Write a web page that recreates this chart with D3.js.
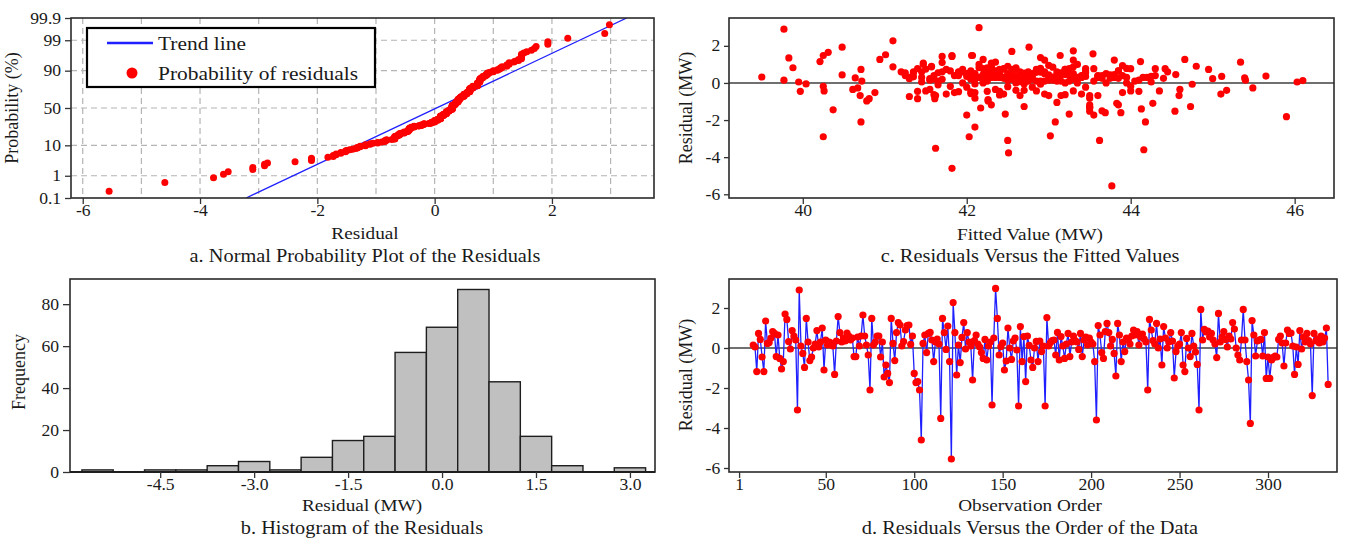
<!DOCTYPE html>
<meta charset="utf-8">
<script src="https://d3js.org/d3.v7.min.js"></script>
<style>
	body{
		margin:0;
		background:#fff;
	}
	svg text{
		font-family:'Liberation Serif','Times New Roman',serif;
		fill:#1a1a1a;
	}
</style>
<div id="chart"></div>
<script>
	// residuals in observation order (first plotted observation is 9)
	var firstObs = 9
	var residuals = [
		0.15,0.05,-1.18,0.73,0.43,-0.45,-1.18,1.35,0.23,0.27,
		0.5,0.82,0.73,-0.43,0.65,-0.52,-1.05,-0.68,1.7,1.43,
		0.32,-0.05,0.87,0.6,0.4,-3.1,2.9,0.1,-0.27,-0.97,
		1.48,0.3,-0.63,-0.45,0.0,0.2,0.87,0.05,0.3,1.0,
		-1.1,0.4,0.15,0.3,0.25,0.1,-1.32,0.35,1.57,0.77,
		0.3,0.5,0.35,0.75,0.6,0.4,0.5,-0.43,-0.43,0.55,
		0.1,0.6,1.65,0.6,0.15,-0.35,-2.1,1.48,0.15,0.3,
		0.6,0.6,-0.45,0.3,-1.45,-0.85,-1.27,-1.73,1.48,0.23,
		-0.63,0.77,1.27,1.15,0.1,0.32,0.9,1.12,1.15,0.18,
		0.6,-1.27,-1.73,-1.68,-2.1,-4.6,0.23,0.65,-0.23,0.73,
		0.78,0.4,-0.68,0.3,0.45,0.2,-3.52,1.48,0.77,-0.07,
		1.1,-0.68,-5.55,2.27,0.77,-1.35,0.15,-0.73,0.53,1.27,
		-0.05,0.77,0.3,0.1,-1.6,0.37,0.65,0.2,0.05,-0.23,
		-0.52,0.43,-0.6,0.1,0.3,-2.85,0.5,2.98,1.48,-0.35,
		0.07,0.25,-1.1,-0.65,1.0,0.0,-0.57,0.35,0.5,-0.1,
		-2.9,1.07,-0.68,0.57,-1.68,0.6,0.13,-0.6,-0.97,0.0,
		0.33,-0.68,0.35,-0.18,0.1,-2.9,1.52,0.1,0.27,0.37,
		0.4,-0.35,0.78,-0.6,0.57,0.1,-0.52,0.2,0.73,-0.43,
		0.3,0.6,0.37,0.3,-0.07,0.73,-0.43,0.4,0.55,0.15,
		0.5,0.3,0.2,-0.68,-3.6,1.12,0.65,-0.23,-0.52,0.82,
		1.23,0.77,0.1,0.43,-0.27,-1.4,1.23,0.65,-0.68,0.3,
		-0.18,0.5,0.4,0.2,0.6,0.9,0.65,0.82,0.15,0.55,
		0.7,0.45,0.3,-2.1,1.43,0.9,0.37,0.2,1.23,0.0,
		0.45,-0.85,1.07,0.5,0.0,0.3,0.77,0.35,-1.5,-0.18,
		0.1,0.2,0.77,-0.85,-1.18,0.48,0.0,-0.43,0.73,0.1,
		-0.2,-0.82,-3.1,1.93,0.4,0.93,0.8,0.85,0.55,0.73,
		0.4,0.2,-0.48,1.73,0.3,0.55,0.82,0.43,0.05,0.6,
		0.45,1.27,0.95,0.0,-0.35,-0.6,0.4,1.93,0.4,-0.68,
		-1.6,-3.77,1.37,0.65,-0.4,0.35,0.4,0.43,-0.4,0.77,
		-1.52,-0.45,-1.52,-0.6,-0.47,-0.4,-0.45,0.43,0.6,0.25,
		-0.9,0.25,0.9,0.73,0.75,0.1,-1.32,0.05,-0.82,0.87,
		-0.05,0.55,0.3,0.73,0.37,0.2,-2.38,0.73,0.35,0.45,
		0.25,0.6,0.3,0.5,1.0,-1.82
	]
	// fitted value of each observation, same order
	var fitted = [
		39.77,39.95,42.3,40.71,40.48,39.97,43.5,39.83,41.3,40.64,
		42.1,39.88,42.6,40.26,41.8,40.88,43.1,40.7,42.55,41.7,
		39.5,40.04,41.57,42.9,41.25,43.62,39.77,40.72,40.67,40.78,
		40.25,42.4,43.2,41.4,42.2,43.0,41.1,42.7,43.4,42.15,
		44.27,41.9,45.4,42.35,43.75,41.65,43.5,42.8,43.54,44.42,
		42.05,43.3,45.11,42.45,41.35,43.9,42.65,41.5,44.0,42.25,
		43.15,41.95,40.31,42.75,44.1,40.61,40.71,41.82,42.5,43.6,
		41.45,42.95,42.4,43.35,40.37,40.81,44.73,43.55,42.06,41.55,
		41.6,44.3,40.94,40.21,42.85,43.05,44.8,45.34,44.12,42.6,
		41.2,42.7,42.0,43.25,43.08,41.82,45.0,42.3,43.45,41.75,
		42.9,43.65,41.62,42.15,43.8,42.55,41.62,42.07,43.25,44.75,
		41.7,44.59,43.77,41.1,42.45,42.17,43.0,41.3,42.7,44.66,
		42.1,43.45,41.45,42.9,43.69,45.65,42.35,43.3,46.03,42.8,
		41.85,43.15,45.1,42.25,44.15,43.02,42.0,42.15,43.14,41.55,
		42.65,43.85,43.83,42.4,41.47,43.2,42.05,44.25,42.5,41.65,
		40.25,42.3,43.5,41.9,42.47,43.1,46.1,42.95,42.26,43.7,
		41.35,43.0,42.6,40.25,44.05,42.03,41.01,42.2,45.39,42.75,
		43.4,42.35,43.95,41.75,42.85,43.55,42.1,41.6,44.95,43.3,
		42.45,41.9,43.6,42.15,42.9,43.2,44.35,42.55,41.25,43.05,
		42.8,44.2,42.25,42.65,44.16,42.35,43.45,42.0,43.9,42.6,
		42.95,41.4,43.25,42.4,45.49,44.13,43.3,42.05,43.6,42.7,
		41.8,43.7,42.2,43.0,44.45,42.5,43.85,42.25,41.55,43.15,
		42.85,44.55,42.45,44.18,41.82,41.57,43.4,42.1,43.8,42.6,
		43.1,41.4,41.47,42.95,43.95,42.3,43.55,42.0,43.65,44.0,
		42.75,41.7,42.2,41.61,43.85,42.4,43.35,42.85,41.95,43.1,
		42.5,43.5,42.5,40.48,42.65,43.9,42.3,43.05,41.65,42.55,
		44.3,42.8,42.05,43.3,41.3,43.45,42.15,43.75,41.45,42.9,
		43.2,42.2,43.0,41.95,44.6,42.45,43.6,42.76,41.6,43.15,
		43.88,42.51,42.9,43.85,45.17,42.35,41.85,43.25,42.7,44.0,
		44.54,42.25,43.5,43.4,41.9,42.6,44.1,43.0,41.7,42.45,
		42.26,43.65,42.3,43.2,41.5,42.95,43.5,44.25,42.1,43.3,
		42.7,41.35,43.8,42.4,43.1,42.05,42.1,42.85,43.45,42.2,
		44.4,42.65,43.95,42.0,43.35,45.9
	]
	// histogram (bin width 0.5)
	var histCenters = [-5.5,-5,-4.5,-4,-3.5,-3,-2.5,-2,-1.5,-1,-0.5,0,0.5,1,1.5,2,2.5,3]
	var histCounts = [1,0,1,1,3,5,1,7,15,17,57,69,87,43,17,3,0,2]
	var binWidth = 0.5

	// ticks
	var probTicks = [0.1,1,10,50,90,99,99.9]
	var probGrid = [1,10,50,90,99]
	var residTicksA = [-6,-4,-2,0,2]
	var residGridA = [-6,-5,-4,-3,-2,-1,0,1,2,3]
	var fitTicks = [40,42,44,46]
	var resTicks = [-6,-4,-2,0,2]
	var histXTicks = [-4.5,-3,-1.5,0,1.5,3]
	var freqTicks = [0,20,40,60,80]
	var orderTicks = [1,50,100,150,200,250,300]

	// trend line (normal fit)
	var trendMean = 0.03
	var trendSd = 1.05
	var legendItems = ["Trend line","Probability of residuals"]

	var W = 1346, H = 544
	var stretch = " scale(1.1,1)"
	var textCol = "#1a1a1a"
	var svg = d3.select("#chart").append("svg").attr("width",W).attr("height",H)

	function probit(p){
		var a=[-3.969683028665376e+01,2.209460984245205e+02,-2.759285104469687e+02,1.383577518672690e+02,-3.066479806614716e+01,2.506628277459239e+00]
		var b=[-5.447609879822406e+01,1.615858368580409e+02,-1.556989798598866e+02,6.680131188771972e+01,-1.328068155288572e+01]
		var c=[-7.784894002430293e-03,-3.223964580411365e-01,-2.400758277161838e+00,-2.549732539343734e+00,4.374664141464968e+00,2.938163982698783e+00]
		var d=[7.784695709041462e-03,3.224671290700398e-01,2.445134137142996e+00,3.754408661907416e+00]
		var pl=0.02425, q, r
		if(p<pl){
			q=Math.sqrt(-2*Math.log(p))
			return (((((c[0]*q+c[1])*q+c[2])*q+c[3])*q+c[4])*q+c[5])/((((d[0]*q+d[1])*q+d[2])*q+d[3])*q+1)
		}
		if(p>1-pl){
			q=Math.sqrt(-2*Math.log(1-p))
			return -(((((c[0]*q+c[1])*q+c[2])*q+c[3])*q+c[4])*q+c[5])/((((d[0]*q+d[1])*q+d[2])*q+d[3])*q+1)
		}
		q=p-0.5; r=q*q
		return (((((a[0]*r+a[1])*r+a[2])*r+a[3])*r+a[4])*r+a[5])*q/(((((b[0]*r+b[1])*r+b[2])*r+b[3])*r+b[4])*r+1)
	}

	function label(txt,x,y,size,rotate){
		var t = svg.append("text").text(txt)
			.attr("text-anchor","middle")
			.style("font-size",size+"px")
		if(rotate){
			t.attr("transform","translate("+x+","+y+") rotate(-90)")
		}else{
			t.attr("transform","translate("+x+","+y+")"+stretch)
		}
		return t
	}

	function styleAxis(g,size){
		g.select(".domain").remove()
		g.attr("color","#333")
		g.selectAll("line").attr("stroke-width",1.3)
		g.selectAll("text").attr("transform","scale(1.1,1)").style("font-size",size+"px").attr("fill",textCol)
	}

	function frame(box){
		svg.append("rect").attr("x",box.l).attr("y",box.t)
			.attr("width",box.r-box.l).attr("height",box.b-box.t)
			.attr("fill","none").attr("stroke","#2a2a2a").attr("stroke-width",1.6)
	}

	function clip(id,box){
		svg.append("clipPath").attr("id",id).append("rect")
			.attr("x",box.l).attr("y",box.t).attr("width",box.r-box.l).attr("height",box.b-box.t)
	}

	var fmtInt = function(d){ return String(d) }
	var fmt1 = function(d){ return d.toFixed(1) }

	// ---------- a. normal probability plot
	function drawProb(){
		var box = {l:71,t:18,r:654,b:198}
		var x = d3.scaleLinear().domain([-6.2,3.74]).range([box.l,box.r])
		var zMax = probit(0.999)
		var yz = d3.scaleLinear().domain([-zMax,zMax]).range([box.b,box.t])
		var y = function(pct){ return yz(probit(pct/100)) }
		clip("clipA",box)

		var grid = svg.append("g").attr("stroke","#b4b4b4").attr("stroke-width",1.2).attr("stroke-dasharray","6,4")
		grid.selectAll(".vg").data(residGridA).enter().append("line")
			.attr("x1",function(d){return x(d)}).attr("x2",function(d){return x(d)})
			.attr("y1",box.t).attr("y2",box.b)
		grid.selectAll(".hg").data(probGrid).enter().append("line")
			.attr("y1",function(d){return y(d)}).attr("y2",function(d){return y(d)})
			.attr("x1",box.l).attr("x2",box.r)

		// sorted residuals with plotting positions
		var sorted = residuals.slice().sort(d3.ascending)
		var n = sorted.length
		var pts = sorted.map(function(v,i){ return {x:v,z:probit((i+1-0.3)/(n+0.4))} })

		var zs = [-zMax,zMax]
		svg.append("line").attr("clip-path","url(#clipA)")
			.attr("x1",x(trendMean+trendSd*zs[0])).attr("y1",yz(zs[0]))
			.attr("x2",x(trendMean+trendSd*zs[1])).attr("y2",yz(zs[1]))
			.attr("stroke","#1f1fff").attr("stroke-width",1.3)

		svg.append("g").selectAll("circle").data(pts).enter().append("circle")
			.attr("cx",function(d){return x(d.x)}).attr("cy",function(d){return yz(d.z)})
			.attr("r",3.5).attr("fill","#ff0000")

		frame(box)

		var xa = svg.append("g").attr("transform","translate(0,"+box.b+")")
			.call(d3.axisBottom(x).tickValues(residTicksA).tickFormat(fmtInt).tickSize(6).tickPadding(1).tickSizeOuter(0))
		styleAxis(xa,16)
		var ya = svg.append("g").attr("transform","translate("+box.l+",0)")
			.call(d3.axisLeft(yz).tickValues(probTicks.map(function(p){return probit(p/100)}))
				.tickFormat(function(d,i){return probTicks[i]}).tickSize(6).tickSizeOuter(0))
		styleAxis(ya,16)

		// legend
		var lg = svg.append("g")
		lg.append("rect").attr("x",87).attr("y",28).attr("width",288).attr("height",59)
			.attr("fill","#fff").attr("stroke","#000").attr("stroke-width",2.2)
		lg.append("line").attr("x1",107).attr("x2",153).attr("y1",43).attr("y2",43)
			.attr("stroke","#1f1fff").attr("stroke-width",2.5)
		lg.append("circle").attr("cx",132).attr("cy",73).attr("r",5.5).attr("fill","#ff0000")
		lg.selectAll("text").data(legendItems).enter().append("text")
			.text(function(d){return d})
			.attr("transform",function(d,i){return "translate(158,"+(50+i*30)+")"+stretch})
			.style("font-size","19.5px")

		label("Probability (%)",18,108,18,true)
		label("Residual",365,239,17.5)
		label("a. Normal Probability Plot of the Residuals",365,262,18.5)
	}

	// ---------- c. residuals versus fitted
	function drawFitted(){
		var box = {l:729,t:18,r:1334,b:198}
		var x = d3.scaleLinear().domain([39.1,46.48]).range([box.l,box.r])
		var y = d3.scaleLinear().domain([-6.2,3.5]).range([box.b,box.t])
		svg.append("line").attr("x1",box.l).attr("x2",box.r).attr("y1",y(0)).attr("y2",y(0))
			.attr("stroke","#404040").attr("stroke-width",1.4)
		svg.append("g").selectAll("circle").data(residuals).enter().append("circle")
			.attr("cx",function(d,i){return x(fitted[i])}).attr("cy",function(d){return y(d)})
			.attr("r",3.6).attr("fill","#ff0000")
		frame(box)
		var xa = svg.append("g").attr("transform","translate(0,"+box.b+")")
			.call(d3.axisBottom(x).tickValues(fitTicks).tickFormat(fmtInt).tickSize(6).tickPadding(1).tickSizeOuter(0))
		styleAxis(xa,16)
		var ya = svg.append("g").attr("transform","translate("+box.l+",0)")
			.call(d3.axisLeft(y).tickValues(resTicks).tickFormat(fmtInt).tickSize(5).tickSizeOuter(0))
		styleAxis(ya,16)
		label("Residual (MW)",692,108,18,true)
		label("Fitted Value (MW)",1030,240,17.5)
		label("c. Residuals Versus the Fitted Values",1030,262,18.5)
	}

	// ---------- b. histogram
	function drawHist(){
		var box = {l:70,t:279,r:655,b:472}
		var x = d3.scaleLinear().domain([-5.94,3.4]).range([box.l,box.r])
		var y = d3.scaleLinear().domain([0,92]).range([box.b,box.t])
		svg.append("g").selectAll("rect").data(histCounts).enter().append("rect")
			.attr("x",function(d,i){return x(histCenters[i]-binWidth/2)})
			.attr("width",function(d,i){return x(histCenters[i]+binWidth/2)-x(histCenters[i]-binWidth/2)})
			.attr("y",function(d){return y(d)})
			.attr("height",function(d){return y(0)-y(d)})
			.attr("fill","#c0c0c0").attr("stroke","#1e1e1e").attr("stroke-width",1.4)
		frame(box)
		svg.append("line").attr("x1",box.l).attr("x2",box.r).attr("y1",box.b).attr("y2",box.b)
			.attr("stroke","#1e1e1e").attr("stroke-width",2)
		var xa = svg.append("g").attr("transform","translate(0,"+box.b+")")
			.call(d3.axisBottom(x).tickValues(histXTicks).tickFormat(fmt1).tickSize(6).tickPadding(1).tickSizeOuter(0))
		styleAxis(xa,16)
		var ya = svg.append("g").attr("transform","translate("+box.l+",0)")
			.call(d3.axisLeft(y).tickValues(freqTicks).tickFormat(fmtInt).tickSize(7).tickSizeOuter(0))
		styleAxis(ya,16)
		label("Frequency",25,372,18,true)
		label("Residual (MW)",362,511,17.5)
		label("b. Histogram of the Residuals",362,534,18.5)
	}

	// ---------- d. residuals versus order
	function drawOrder(){
		var box = {l:729,t:279,r:1337,b:472}
		var x = d3.scaleLinear().domain([-4.7,339]).range([box.l,box.r])
		var y = d3.scaleLinear().domain([-6.2,3.45]).range([box.b,box.t])
		svg.append("line").attr("x1",box.l).attr("x2",box.r).attr("y1",y(0)).attr("y2",y(0))
			.attr("stroke","#404040").attr("stroke-width",1.4)
		var line = d3.line().x(function(d,i){return x(firstObs+i)}).y(function(d){return y(d)})
		svg.append("path").datum(residuals).attr("d",line)
			.attr("fill","none").attr("stroke","#1f1fff").attr("stroke-width",1.3)
		svg.append("g").selectAll("circle").data(residuals).enter().append("circle")
			.attr("cx",function(d,i){return x(firstObs+i)}).attr("cy",function(d){return y(d)})
			.attr("r",3.6).attr("fill","#ff0000")
		frame(box)
		var xa = svg.append("g").attr("transform","translate(0,"+box.b+")")
			.call(d3.axisBottom(x).tickValues(orderTicks).tickFormat(fmtInt).tickSize(6).tickPadding(1).tickSizeOuter(0))
		styleAxis(xa,16)
		var ya = svg.append("g").attr("transform","translate("+box.l+",0)")
			.call(d3.axisLeft(y).tickValues(resTicks).tickFormat(fmtInt).tickSize(5).tickSizeOuter(0))
		styleAxis(ya,16)
		label("Residual (MW)",692,375,18,true)
		label("Observation Order",1030,511,17.5)
		label("d. Residuals Versus the Order of the Data",1030,534,18.5)
	}

	drawProb()
	drawFitted()
	drawHist()
	drawOrder()
</script>
